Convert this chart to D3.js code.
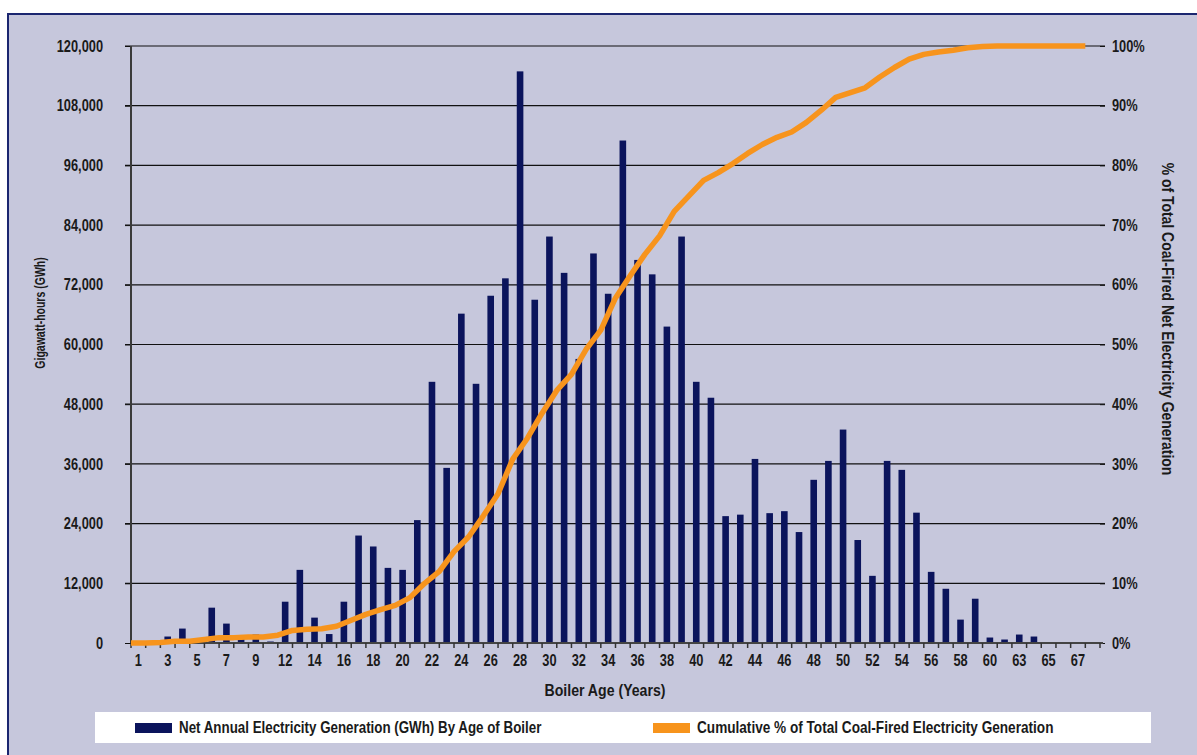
<!DOCTYPE html>
<html>
<head>
<meta charset="utf-8">
<script src="https://cdn.jsdelivr.net/npm/d3@7"></script>
<style>
body { margin: 0; background: #ffffff; }
text { font-family: "Liberation Sans", Arial, sans-serif; font-weight: bold; fill: #1a1a1a; }
</style>
</head>
<body>
<div id="chart"></div>
<script>
// boiler ages that have a bar (10 and 61 are missing in the source)
var ages = [1, 2, 3, 4, 5, 6, 7, 8, 9, 11,
	12, 13, 14, 15, 16, 17, 18, 19, 20, 21,
	22, 23, 24, 25, 26, 27, 28, 29, 30, 31,
	32, 33, 34, 35, 36, 37, 38, 39, 40, 41,
	42, 43, 44, 45, 46, 47, 48, 49, 50, 51,
	52, 53, 54, 55, 56, 57, 58, 59, 60, 62,
	63, 64, 65, 66, 67, 68];

// net annual generation, GWh
var generation = [0, 0, 1300, 2900, 0, 7100, 3900, 800, 1700, 300,
	8300, 14700, 5100, 1800, 8300, 21600, 19400, 15100, 14700, 24700,
	52500, 35200, 66200, 52100, 69800, 73300, 114900, 69000, 81700, 74400,
	57100, 78300, 70200, 101000, 77000, 74100, 63600, 81700, 52500, 49300,
	25500, 25800, 37000, 26100, 26500, 22300, 32800, 36600, 42900, 20700,
	13500, 36600, 34800, 26200, 14300, 10900, 4700, 8900, 1100, 700,
	1700, 1300, 200, 200, 200, 200];

// cumulative % of total coal-fired generation
var cumulative = [0, 0, 0.1, 0.3, 0.3, 0.6, 0.9, 0.9, 1.0, 1.0,
	1.3, 2.1, 2.3, 2.4, 2.8, 3.8, 4.8, 5.6, 6.3, 7.6,
	10.0, 12.0, 15.3, 17.8, 21.3, 25.0, 30.8, 34.3, 38.5, 42.3,
	45.0, 49.2, 52.4, 57.8, 61.5, 65.1, 68.2, 72.3, 74.9, 77.5,
	78.8, 80.3, 82.0, 83.5, 84.7, 85.6, 87.2, 89.2, 91.4, 92.2,
	93.0, 94.8, 96.4, 97.8, 98.6, 99.0, 99.3, 99.7, 99.9, 100,
	100, 100, 100, 100, 100, 100];

var gwhTicks = [0, 12000, 24000, 36000, 48000, 60000, 72000, 84000, 96000, 108000, 120000];
var pctTicks = [0, 10, 20, 30, 40, 50, 60, 70, 80, 90, 100];

var width = 1197, height = 755;
var plotLeft = 131, plotRight = 1100, plotTop = 46, plotBottom = 643;

// squeeze text horizontally, the original uses a condensed face
function condense(sel, k) {
	sel.each(function() {
		var len = this.getComputedTextLength();
		d3.select(this)
			.attr("textLength", len * k)
			.attr("lengthAdjust", "spacingAndGlyphs");
	});
}

var svg = d3.select("#chart").append("svg")
	.attr("width", width)
	.attr("height", height);

// panel background with navy frame
svg.append("rect")
	.attr("x", 8)
	.attr("y", 14)
	.attr("width", 1300)
	.attr("height", 900)
	.attr("fill", "#c6c7dc")
	.attr("stroke", "#1b2670")
	.attr("stroke-width", 2);

var x = d3.scaleBand()
	.domain(ages)
	.range([plotLeft, plotRight])
	.paddingInner(0.55)
	.paddingOuter(0.275);
var y = d3.scaleLinear().domain([0, 120000]).range([plotBottom, plotTop]);
var yPct = d3.scaleLinear().domain([0, 100]).range([plotBottom, plotTop]);

var gap = (x.step() - x.bandwidth()) / 2;
function edge(a) { return x(a) - gap; }

// gridlines
svg.append("g").selectAll("line")
	.data(gwhTicks.slice(1))
	.enter().append("line")
	.attr("x1", plotLeft - 6)
	.attr("x2", plotRight + 5)
	.attr("y1", function(d){ return y(d); })
	.attr("y2", function(d){ return y(d); })
	.attr("stroke", "#111")
	.attr("stroke-width", 1.2);

// left axis labels
var yAxis = svg.append("g")
	.attr("transform", "translate(" + plotLeft + ",0)")
	.call(d3.axisLeft(y).tickValues(gwhTicks).tickFormat(d3.format(",")).tickSize(6).tickPadding(22));
yAxis.select(".domain").remove();
yAxis.selectAll("line").attr("stroke", "#111");
yAxis.selectAll("text").style("font-size", "16px").attr("fill", "#1a1a1a").call(condense, 0.8);

// right axis labels
var rAxis = svg.append("g")
	.attr("transform", "translate(" + plotRight + ",0)")
	.call(d3.axisRight(yPct).tickValues(pctTicks).tickFormat(function(d){ return d + "%"; }).tickSize(5).tickPadding(7));
rAxis.select(".domain").remove();
rAxis.selectAll("line").attr("stroke", "#111");
rAxis.selectAll("text").style("font-size", "16px").attr("fill", "#1a1a1a").call(condense, 0.8);

// bars
svg.append("g").selectAll("rect")
	.data(generation)
	.enter().append("rect")
	.attr("x", function(d, i){ return x(ages[i]); })
	.attr("width", x.bandwidth())
	.attr("y", function(d){ return y(d); })
	.attr("height", function(d){ return plotBottom - y(d); })
	.attr("fill", "#0b145c");

// bottom axis line + boundary ticks
svg.append("line")
	.attr("x1", plotLeft).attr("x2", plotRight + 3)
	.attr("y1", plotBottom).attr("y2", plotBottom)
	.attr("stroke", "#444").attr("stroke-width", 2);
var bounds = ages.map(edge).concat([plotRight]);
svg.append("g").selectAll("line")
	.data(bounds)
	.enter().append("line")
	.attr("x1", function(d){ return d; })
	.attr("x2", function(d){ return d; })
	.attr("y1", plotBottom)
	.attr("y2", plotBottom + 5)
	.attr("stroke", "#333")
	.attr("stroke-width", 1.5);

// left axis line
svg.append("line")
	.attr("x1", plotLeft).attr("x2", plotLeft)
	.attr("y1", plotTop).attr("y2", plotBottom)
	.attr("stroke", "#3a3a3a").attr("stroke-width", 2);

// x labels, every other category
var xAxis = svg.append("g")
	.attr("transform", "translate(0," + plotBottom + ")")
	.call(d3.axisBottom(x).tickValues(ages.filter(function(d, i){ return i % 2 == 0; })).tickSize(0).tickPadding(12));
xAxis.select(".domain").remove();
xAxis.selectAll("text").style("font-size", "16px").attr("fill", "#1a1a1a").call(condense, 0.8);

// cumulative line, points sit on the category boundaries
var line = d3.line()
	.x(function(d, i){ return edge(ages[i]); })
	.y(function(d){ return yPct(d); });
svg.append("path")
	.datum(cumulative)
	.attr("d", line)
	.attr("fill", "none")
	.attr("stroke", "#f7941d")
	.attr("stroke-width", 5.5)
	.attr("stroke-linejoin", "round");

// axis titles
svg.append("text")
	.attr("transform", "translate(45,313) rotate(-90)")
	.attr("text-anchor", "middle")
	.style("font-size", "15px")
	.text("Gigawatt-hours (GWh)")
	.call(condense, 0.7);
svg.append("text")
	.attr("transform", "translate(1162,319) rotate(90)")
	.attr("text-anchor", "middle")
	.style("font-size", "17px")
	.text("% of Total Coal-Fired Net Electricity Generation")
	.call(condense, 0.82);
svg.append("text")
	.attr("x", 605)
	.attr("y", 696)
	.attr("text-anchor", "middle")
	.style("font-size", "17px")
	.text("Boiler Age (Years)")
	.call(condense, 0.83);

// legend
var legend = svg.append("g");
legend.append("rect")
	.attr("x", 95).attr("y", 712)
	.attr("width", 1056).attr("height", 31)
	.attr("fill", "#ffffff");
legend.append("rect")
	.attr("x", 135).attr("y", 723)
	.attr("width", 37).attr("height", 10)
	.attr("fill", "#0b145c");
legend.append("text")
	.attr("x", 179).attr("y", 733)
	.style("font-size", "17px")
	.text("Net Annual Electricity Generation (GWh) By Age of Boiler")
	.call(condense, 0.785);
legend.append("rect")
	.attr("x", 653).attr("y", 723)
	.attr("width", 37).attr("height", 10)
	.attr("fill", "#f7941d");
legend.append("text")
	.attr("x", 697).attr("y", 733)
	.style("font-size", "17px")
	.text("Cumulative % of Total Coal-Fired Electricity Generation")
	.call(condense, 0.8);
</script>
</body>
</html>
